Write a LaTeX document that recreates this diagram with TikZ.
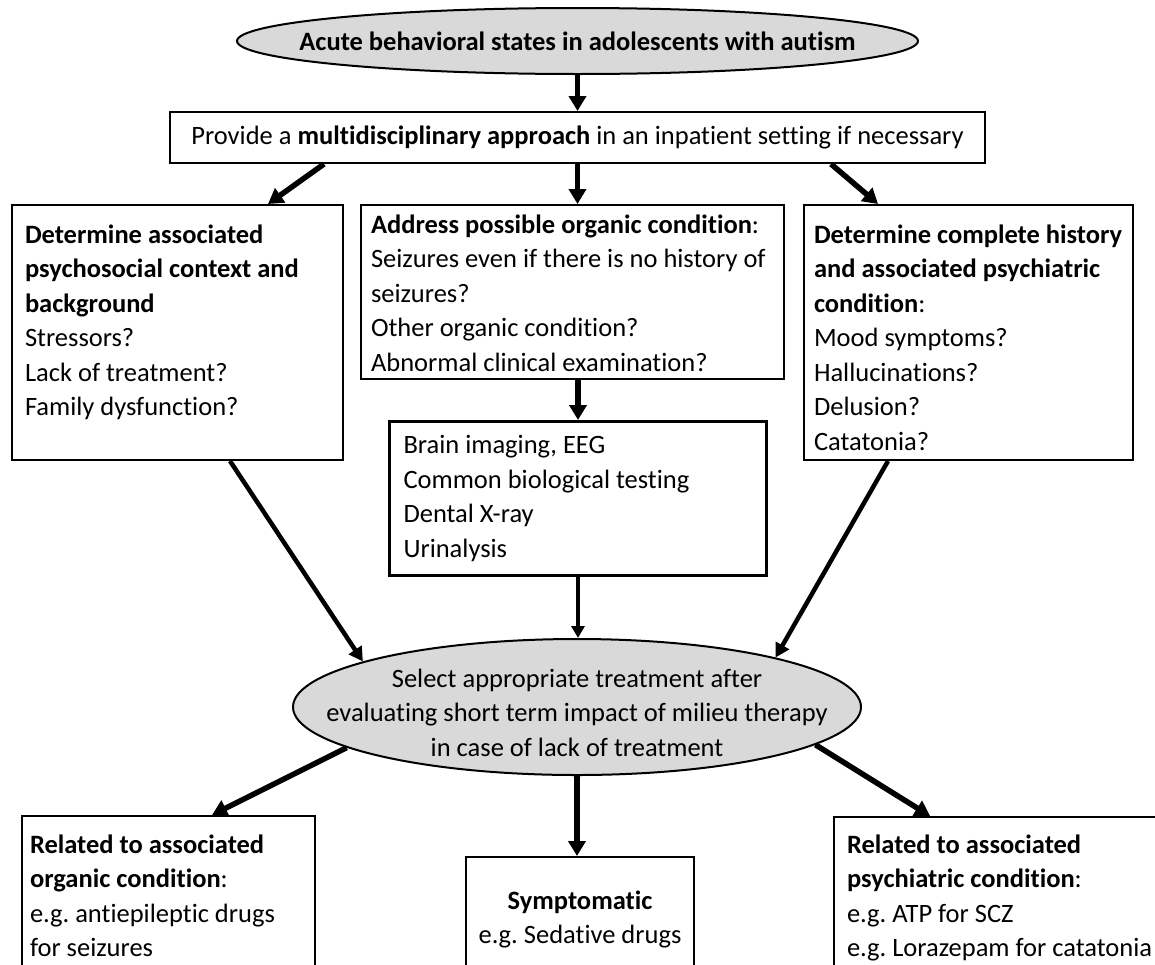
\documentclass[tikz,border=0pt]{standalone}
\usepackage{fontspec}
\setmainfont{Carlito}[Ligatures={NoCommon,NoContextual}]
\usetikzlibrary{shapes.geometric,arrows.meta,calc}

\definecolor{ovalgray}{HTML}{D9D9D9}
\hyphenpenalty=10000
\exhyphenpenalty=10000
% fixed size text block, lines set from the top
\newcommand{\boxtext}[3]{\parbox[t][#1][t]{#2}{\raggedright\strut #3}}
% text of an oval that does not widen the oval
\newcommand{\ovaltext}[2]{\smash{\raisebox{#1}{\makebox[0pt]{\begin{tabular}{@{}c@{}}#2\end{tabular}}}}}

\begin{document}
\frenchspacing
\begin{tikzpicture}[x=1pt,y=-1pt,
    font=\fontsize{26.5}{34.5}\selectfont,
    oval/.style={ellipse,draw,line width=2pt,fill=ovalgray,inner sep=0pt},
    panel/.style={draw,line width=2pt,anchor=north west,inner xsep=13pt},
    bigarrow/.style={line width=5.5pt,-{Triangle[length=15pt,width=17pt]}},
    midarrow/.style={line width=4.5pt,-{Triangle[length=14pt,width=15pt]}},
    thinarrow/.style={line width=3.2pt,-{Triangle[length=12pt,width=13pt]}}]

    \useasboundingbox (0,0) rectangle (1155,964);
    \clip (0,0) rectangle (1155,964);

    % Draw the starting oval
    \node[oval,minimum width=681pt,minimum height=66pt] (acute) at (577.5,41)
        {\ovaltext{-9pt}{\textbf{Acute behavioral states in adolescents with autism}}};

    % Draw the approach box
    \node[draw,line width=2pt,minimum width=815pt,minimum height=51pt,inner sep=0pt]
        (provide) at (577.5,137.5) {Provide a \textbf{multidisciplinary approach} in an inpatient setting if necessary};

    % Draw the three assessment boxes
    \node[panel,inner ysep=14pt] (context) at (11,204) {\boxtext{227pt}{305pt}{%
        \textbf{Determine associated}\\ \textbf{psychosocial context and}\\ \textbf{background}\\
        Stressors?\\ Lack of treatment?\\ Family dysfunction?}};
    \node[panel,inner xsep=10pt,inner ysep=4pt] (organic) at (360,204) {\boxtext{166pt}{403pt}{%
        \textbf{Address~possible~organic~condition}:\\ Seizures~even~if~there~is~no~history~of\\ seizures?\\
        Other organic condition?\\ Abnormal clinical examination?}};
    \node[panel,inner xsep=10pt,inner ysep=14pt] (history) at (803,204) {\boxtext{227pt}{309pt}{%
        \textbf{Determine~complete~history}\\ \textbf{and~associated~psychiatric}\\ \textbf{condition}:\\
        Mood symptoms?\\ Hallucinations?\\ Delusion?\\ Catatonia?}};

    % Draw the examinations box
    \node[panel,line width=3pt,inner xsep=14pt,inner ysep=8pt] (tests) at (388,420) {\boxtext{138pt}{349pt}{%
        Brain imaging, EEG\\ Common biological testing\\ Dental X-ray\\ Urinalysis}};

    % Draw the treatment oval
    \node[oval,minimum width=568pt,minimum height=136pt] (select) at (577,707)
        {\ovaltext{-14pt}{Select appropriate treatment after\\ evaluating short term impact of milieu therapy\\ in case of lack of treatment}};

    % Draw the three treatment boxes (cut at the bottom)
    \node[panel,inner xsep=8pt,inner ysep=13pt] (orgtx) at (21,815) {\boxtext{200pt}{277pt}{%
        \textbf{Related to associated}\\ \textbf{organic condition}:\\ e.g. antiepileptic drugs\\ for seizures}};
    \node[panel,inner xsep=8pt,inner ysep=28pt] (symptx) at (465,856) {\parbox[t][150pt][t]{212pt}{\centering\strut
        \textbf{Symptomatic}\\ e.g. Sedative drugs}};
    \node[panel,inner ysep=12pt] (psytx) at (833,816) {\boxtext{200pt}{334pt}{%
        \textbf{Related to associated}\\ \textbf{psychiatric condition}:\\ e.g. ATP for SCZ\\ e.g. Lorazepam for catatonia}};

    % Draw the arrows
    \draw[bigarrow] (acute.south) -- (provide.north);
    \draw[bigarrow] ($(provide.south west)+(155,0)$) -- ($(context.north west)+(257,0)$);
    \draw[bigarrow] (provide.south) -- (provide.south |- organic.north);
    \draw[bigarrow] ($(provide.south west)+(662,0)$) -- ($(history.north west)+(75,0)$);
    \draw[bigarrow] (tests.north |- organic.south) -- (tests.north);
    \draw[thinarrow] (tests.south) -- (tests.south |- select.north);
    \draw[midarrow] ($(context.south west)+(219,0)$) -- (select.168);
    \draw[midarrow] ($(history.south west)+(85,0)$) -- (select.14);
    \draw[bigarrow] (select.190) -- ($(orgtx.north west)+(191,0)$);
    \draw[bigarrow] (select.south) -- (select.south |- symptx.north);
    \draw[bigarrow] (select.351) -- ($(psytx.north west)+(97,0)$);

\end{tikzpicture}
\end{document}
